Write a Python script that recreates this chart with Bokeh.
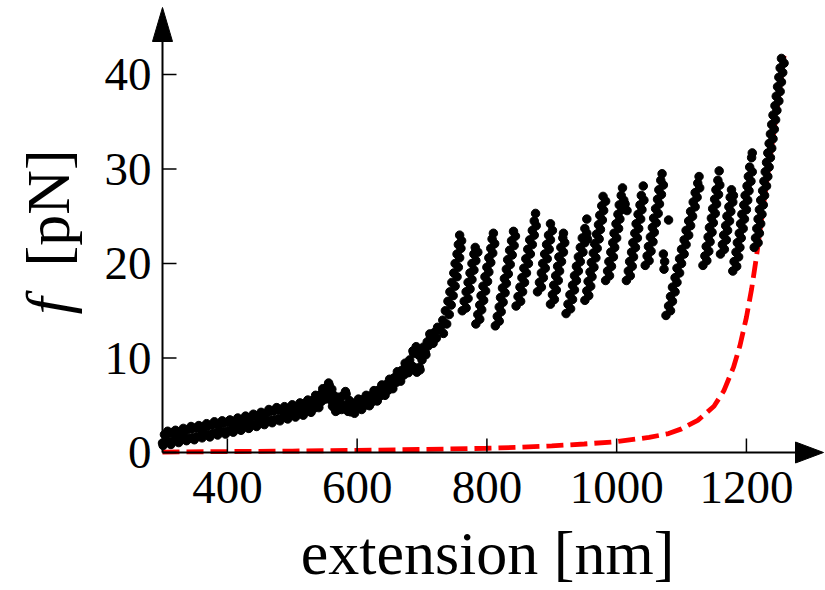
from math import pi
from bokeh.plotting import figure
from bokeh.models import Range1d
from bokeh.core.properties import value
from bokeh.embed import file_html
from bokeh.resources import INLINE

# ---------------- data ----------------
x_ticks = [400, 600, 800, 1000, 1200]
y_ticks = [0, 10, 20, 30, 40]
x_title = "extension [nm]"
y_title_sym = "f"
y_title_unit = "[pN]"

# low-force ramp (two rows of dots)
ext_ramp = [300, 303, 306, 309, 312, 315, 318, 321, 324, 327, 330, 333, 336, 339, 342, 345,
            348, 351, 354, 357, 360, 363, 366, 369, 372, 375, 378, 381, 384, 387, 390, 393,
            396, 399, 402, 405, 408, 411, 414, 417, 420, 423, 426, 429, 432, 435, 438, 441,
            444, 447, 450, 453, 456, 459, 462, 465, 468, 471, 474, 477, 480, 483, 486, 489,
            492, 495, 498, 501, 504, 507, 510, 513, 516, 519, 522, 525, 528, 531, 534, 537,
            540, 543, 545, 548, 550, 553, 554, 557, 558, 561, 562, 565, 566, 569, 570, 573,
            575, 578, 580, 583, 585, 588, 590, 593, 595, 598, 600, 603, 606, 609, 612, 615,
            618, 621, 624, 627, 630, 633, 636, 639, 642, 645, 648, 651, 654, 657, 660, 663,
            666, 669, 672, 675, 678, 681, 684, 687, 688, 691, 692, 695, 696, 699, 700, 703,
            705, 708, 710, 713, 716, 719, 722, 725]
f_ramp = [1.0, 1.9, 1.2, 2.0, 1.1, 2.1, 1.3, 2.1, 1.3, 2.2, 1.4, 2.3, 1.5, 2.4, 1.5, 2.5,
          1.6, 2.6, 1.7, 2.6, 1.8, 2.7, 1.9, 2.8, 1.9, 2.9, 2.0, 3.0, 2.1, 3.0, 2.2, 3.1,
          2.2, 3.2, 2.3, 3.2, 2.4, 3.3, 2.5, 3.4, 2.6, 3.5, 2.7, 3.6, 2.8, 3.7, 2.9, 3.8,
          3.0, 3.9, 3.1, 4.0, 3.2, 4.1, 3.3, 4.3, 3.4, 4.4, 3.5, 4.5, 3.6, 4.5, 3.7, 4.6,
          3.8, 4.7, 3.9, 4.8, 4.0, 4.9, 4.1, 5.0, 4.2, 5.2, 4.4, 5.3, 4.5, 5.5, 4.7, 5.8,
          5.0, 6.1, 5.4, 6.5, 5.9, 6.9, 6.3, 7.1, 5.8, 6.7, 4.9, 5.8, 4.6, 5.5, 4.5, 5.6,
          4.8, 6.0, 5.0, 6.2, 4.6, 5.5, 4.3, 5.0, 4.4, 5.2, 4.6, 5.4, 4.8, 5.6, 5.0, 5.8,
          5.2, 6.0, 5.4, 6.3, 5.7, 6.6, 6.0, 6.9, 6.3, 7.2, 6.6, 7.5, 7.0, 7.9, 7.4, 8.3,
          7.8, 8.7, 8.2, 9.2, 8.7, 9.8, 9.2, 10.5, 9.0, 11.2, 8.5, 10.3, 9.0, 10.2, 9.8, 10.9,
          10.6, 11.7, 11.3, 12.3, 11.8, 12.7, 12.1, 13.0]

# scattered dots along the edges of the ramp
ext_ramp_edge = [301, 308, 313, 320, 325, 332, 337, 344, 349, 356, 361, 368, 373, 380, 385, 392,
                 397, 404, 409, 416, 421, 428, 433, 440, 445, 452, 457, 464, 469, 476, 481, 488,
                 493, 500, 505, 512, 517, 524, 529, 536, 541, 547, 551, 556, 559, 564, 567, 572,
                 576, 582, 586, 592, 596, 602, 607, 614, 619, 626, 631, 638, 643, 650, 655, 662,
                 667, 674, 679, 686, 689, 694, 697, 702, 706, 712, 717, 724]
f_ramp_edge = [0.75, 2.25, 0.85, 2.35, 1.05, 2.55, 1.25, 2.75, 1.35, 2.85, 1.55, 3.05, 1.65, 3.25,
               1.85, 3.35, 1.95, 3.45, 2.15, 3.65, 2.35, 3.85, 2.55, 4.05, 2.75, 4.25, 2.95, 4.55,
               3.15, 4.75, 3.35, 4.85, 3.55, 5.05, 3.75, 5.25, 3.95, 5.55, 4.25, 6.05, 4.75, 6.75,
               5.65, 7.35, 5.55, 6.05, 4.35, 5.85, 4.55, 6.45, 4.35, 5.25, 4.15, 5.65, 4.55, 6.05,
               4.95, 6.55, 5.45, 7.15, 6.05, 7.75, 6.75, 8.55, 7.55, 9.45, 8.45, 10.75, 8.75, 10.55,
               8.75, 11.15, 10.35, 12.55, 11.55, 13.25]

# sawtooth (unfolding events), band by band
ext_teeth = [
    728, 732, 736, 740, 743, 746, 749, 751, 754, 756, 758,
    733, 738, 742, 745, 748, 751, 754, 756, 758, 760, 761,
    762, 765, 768, 771, 774, 777, 780, 782,
    768, 771, 774, 777, 780, 783, 786,
    783, 786, 789, 791, 794, 797, 800, 803, 806, 808, 810,
    789, 792, 795, 798, 801, 803, 806, 809, 812,
    813, 816, 819, 821, 824, 827, 830, 832, 835, 838, 841,
    819, 822, 825, 828, 830, 833, 836, 839, 842, 844,
    845, 848, 851, 854, 857, 860, 863, 866, 870, 873, 875,
    852, 855, 858, 861, 864, 867, 870, 873, 876,
    878, 881, 884, 886, 889, 892, 895, 898,
    884, 887, 890, 893, 896, 898, 901,
    898, 901, 903, 906, 909, 911, 914, 917, 918,
    904, 907, 910, 912, 915, 918, 920,
    922, 925, 928, 932, 935, 938, 941, 944, 947, 951, 954,
    929, 932, 935, 938, 941, 944, 948, 951, 954,
    951, 954, 956, 959, 961, 964, 966, 969, 972, 974, 977, 979,
    957, 960, 962, 965, 968, 970, 973, 975, 978, 980, 983,
    983, 986, 988, 991, 994, 996, 999, 1002, 1004, 1007, 1009,
    989, 992, 995, 997, 1000, 1003, 1005, 1008, 1011, 1013, 1016,
    1015, 1018, 1020, 1023, 1025, 1028, 1030, 1033, 1036, 1038, 1041,
    1021, 1024, 1026, 1029, 1032, 1034, 1037, 1039, 1042,
    1044, 1047, 1049, 1052, 1055, 1057, 1060, 1063, 1065, 1068, 1070,
    1050, 1053, 1056, 1058, 1061, 1064, 1066, 1069, 1072,
    1072, 1074, 1073, 1080, 955,
    1076, 1080, 1083, 1086, 1090, 1093, 1097, 1100, 1104, 1107, 1111, 1114, 1118, 1121, 1125, 1127,
    1083, 1086, 1090, 1093, 1097, 1100, 1104, 1107, 1111, 1114, 1117, 1121, 1124, 1128,
    1133, 1136, 1138, 1141, 1143, 1146, 1148, 1151, 1153, 1156, 1158,
    1139, 1142, 1144, 1147, 1149, 1152, 1154, 1157, 1159,
    1160, 1163, 1165, 1168, 1170, 1173, 1175, 1177,
    1166, 1169, 1171, 1174, 1176, 1179, 1180,
    1179, 1181, 1184, 1186, 1189, 1191, 1193, 1196, 1198, 1201, 1203, 1205, 1208, 1209,
    1185, 1188, 1190, 1192, 1195, 1197, 1200, 1202, 1204, 1207, 1209,
    1212, 1214, 1216, 1218, 1220, 1222, 1225, 1227, 1229, 1231, 1233, 1235, 1237, 1239, 1241,
    1244, 1246, 1248, 1250, 1252, 1254,
    1218, 1220, 1222, 1224, 1226, 1228, 1231, 1233, 1235, 1237, 1239, 1241, 1243, 1245, 1247,
    1250, 1252, 1254, 1256, 1258,
]
f_teeth = [
    13.2, 14.0, 15.0, 16.0, 17.0, 18.0, 19.0, 20.0, 21.0, 22.0, 23.0,
    12.6, 13.6, 14.6, 15.6, 16.6, 17.6, 18.6, 19.6, 20.6, 21.6, 22.4,
    15.0, 16.0, 17.0, 18.0, 19.0, 20.0, 21.0, 21.7,
    15.3, 16.3, 17.3, 18.3, 19.3, 20.3, 21.2,
    13.6, 14.6, 15.6, 16.6, 17.6, 18.6, 19.6, 20.6, 21.6, 22.6, 23.2,
    14.1, 15.1, 16.1, 17.1, 18.1, 19.1, 20.1, 21.1, 22.1,
    13.4, 14.4, 15.4, 16.4, 17.4, 18.4, 19.4, 20.4, 21.4, 22.4, 23.4,
    13.9, 14.9, 15.9, 16.9, 17.9, 18.9, 19.9, 20.9, 21.9, 22.9,
    15.5, 16.5, 17.5, 18.5, 19.5, 20.5, 21.5, 22.5, 23.5, 24.5, 25.3,
    16.0, 17.0, 18.0, 19.0, 20.0, 21.0, 22.0, 23.0, 24.0,
    17.0, 18.0, 19.0, 20.0, 21.0, 22.0, 23.0, 24.2,
    17.5, 18.5, 19.5, 20.5, 21.5, 22.5, 23.5,
    15.7, 16.7, 17.7, 18.7, 19.7, 20.7, 21.7, 22.7, 23.2,
    16.2, 17.2, 18.2, 19.2, 20.2, 21.2, 22.2,
    14.7, 15.7, 16.7, 17.7, 18.7, 19.7, 20.7, 21.7, 22.7, 23.7, 24.7,
    15.2, 16.2, 17.2, 18.2, 19.2, 20.2, 21.2, 22.2, 23.2,
    16.1, 17.1, 18.1, 19.1, 20.1, 21.1, 22.1, 23.1, 24.1, 25.1, 26.1, 27.1,
    16.6, 17.6, 18.6, 19.6, 20.6, 21.6, 22.6, 23.6, 24.6, 25.6, 26.6,
    18.2, 19.2, 20.2, 21.2, 22.2, 23.2, 24.2, 25.2, 26.2, 27.2, 28.0,
    18.7, 19.7, 20.7, 21.7, 22.7, 23.7, 24.7, 25.7, 26.7, 26.3, 25.6,
    18.2, 19.2, 20.2, 21.2, 22.2, 23.2, 24.2, 25.2, 26.2, 27.2, 28.2,
    18.7, 19.7, 20.7, 21.7, 22.7, 23.7, 24.7, 25.7, 26.7,
    19.8, 20.8, 21.8, 22.8, 23.8, 24.8, 25.8, 26.8, 27.8, 28.8, 29.5,
    20.3, 21.3, 22.3, 23.3, 24.3, 25.3, 26.3, 27.3, 28.3,
    21.0, 20.2, 19.4, 24.6, 22.6,
    14.5, 15.5, 16.5, 17.5, 18.5, 19.5, 20.5, 21.5, 22.5, 23.5, 24.5, 25.5, 26.5, 27.5, 28.5, 29.2,
    15.0, 16.0, 17.0, 18.0, 19.0, 20.0, 21.0, 22.0, 23.0, 24.0, 25.0, 26.0, 27.0, 28.0,
    19.8, 20.8, 21.8, 22.8, 23.8, 24.8, 25.8, 26.8, 27.8, 28.8, 29.8,
    20.3, 21.3, 22.3, 23.3, 24.3, 25.3, 26.3, 27.3, 28.3,
    21.0, 22.0, 23.0, 24.0, 25.0, 26.0, 27.0, 27.8,
    21.5, 22.5, 23.5, 24.5, 25.5, 26.5, 27.2,
    19.2, 20.2, 21.2, 22.2, 23.2, 24.2, 25.2, 26.2, 27.2, 28.2, 29.2, 30.2, 31.2, 31.7,
    19.7, 20.7, 21.7, 22.7, 23.7, 24.7, 25.7, 26.7, 27.7, 28.7, 29.7,
    21.7, 22.7, 23.7, 24.7, 25.7, 26.7, 27.7, 28.7, 29.7, 30.7, 31.7, 32.7, 33.7, 34.7, 35.7,
    36.7, 37.7, 38.7, 39.7, 40.7, 41.7,
    22.2, 23.2, 24.2, 25.2, 26.2, 27.2, 28.2, 29.2, 30.2, 31.2, 32.2, 33.2, 34.2, 35.2, 36.2,
    37.2, 38.2, 39.2, 40.2, 41.2,
]

# worm-like-chain fit (red dashed)
ext_fit = [300, 400, 500, 600, 700, 800, 850, 900, 950, 1000, 1050, 1080, 1100, 1125,
           1150, 1165, 1180, 1190, 1200, 1208, 1215, 1222, 1230, 1240, 1250, 1258]
f_fit = [0.05, 0.1, 0.15, 0.22, 0.32, 0.45, 0.55, 0.7, 0.9, 1.15, 1.6, 2.0, 2.5, 3.4,
         4.9, 6.5, 9.0, 11.3, 14.3, 17.3, 20.5, 24.0, 28.0, 32.8, 37.8, 42.0]

# ---------------- layout (page pixels; the page has no margin) ----------------
W, H = 824, 588
X_ORIG, Y_ORIG = 300, 0          # where the two axes cross
PX_ORIG, PY_ORIG = 162, 452       # pixel position of that crossing
SX = 0.6488                       # px per nm
SY = 9.45                         # px per pN
X_LO = X_ORIG - PX_ORIG / SX
X_HI = X_ORIG + (W - PX_ORIG) / SX
Y_HI = Y_ORIG + PY_ORIG / SY
Y_LO = Y_ORIG - (H - PY_ORIG) / SY


def px2x(px):
    return X_ORIG + (px - PX_ORIG) / SX


def py2y(py):
    return Y_ORIG + (PY_ORIG - py) / SY


FONT = "Liberation Serif"
TICK = 14        # px, drawn inward
BASE_K = 0.37    # text baseline correction, in em

p = figure(width=W, height=H, x_range=Range1d(X_LO, X_HI), y_range=Range1d(Y_LO, Y_HI),
           output_backend="svg", toolbar_location=None, x_axis_type=None, y_axis_type=None,
           min_border=0)
p.outline_line_color = None
p.grid.visible = False
p.background_fill_color = "white"
p.border_fill_color = "white"

# fit line, then data dots
p.line(ext_fit, f_fit, line_color="#ff0000", line_width=4.8, line_dash="17 7")
p.scatter(ext_ramp, f_ramp, size=8.5, color="black")
p.scatter(ext_ramp_edge, f_ramp_edge, size=8.5, color="black")
p.scatter(ext_teeth, f_teeth, size=8.5, color="black")

# axis lines
p.segment(x0=[X_ORIG, X_ORIG], y0=[Y_ORIG, Y_ORIG], x1=[px2x(798), X_ORIG], y1=[Y_ORIG, py2y(38)],
          line_color="black", line_width=2)
# ticks (inward)
p.segment(x0=x_ticks, y0=[Y_ORIG] * len(x_ticks), x1=x_ticks, y1=[Y_ORIG + TICK / SY] * len(x_ticks),
          line_color="black", line_width=1.5)
p.segment(x0=[X_ORIG] * len(y_ticks), y0=y_ticks, x1=[X_ORIG + TICK / SX] * len(y_ticks), y1=y_ticks,
          line_color="black", line_width=1.5)
# arrowheads
p.patch([px2x(795), px2x(795), px2x(823)], [py2y(PY_ORIG - 10.5), py2y(PY_ORIG + 10.5), Y_ORIG],
        fill_color="black", line_color="black", line_width=1)
p.patch([px2x(PX_ORIG - 10), px2x(PX_ORIG + 10), X_ORIG], [py2y(41), py2y(41), py2y(7)],
        fill_color="black", line_color="black", line_width=1)

# tick labels (baseline 504 px for x; digits centred on tick for y)
TS = 47
p.text(x=x_ticks, y=[py2y(504 - BASE_K * TS)] * len(x_ticks), text=[str(t) for t in x_ticks],
       text_font=value(FONT), text_font_size=value(f"{TS}px"), text_color="black",
       text_align="center", text_baseline="alphabetic")
p.text(x=[px2x(151)] * len(y_ticks), y=[t + (BASE_K * TS - 17.5) / SY for t in y_ticks],
       text=[str(t) for t in y_ticks],
       text_font=value(FONT), text_font_size=value(f"{TS}px"), text_color="black",
       text_align="right", text_baseline="alphabetic")

# axis titles
XS = 62
p.text(x=[px2x(487)], y=[py2y(575 - BASE_K * XS)], text=[x_title],
       text_font=value(FONT), text_font_size=value(f"{XS}px"), text_color="black",
       text_align="center", text_baseline="alphabetic")
YS = 62
p.text(x=[px2x(70 - BASE_K * YS)], y=[py2y(314)], text=[y_title_sym], angle=pi / 2,
       text_font=value(FONT), text_font_style="italic", text_font_size=value(f"{YS}px"),
       text_color="black", text_align="left", text_baseline="alphabetic")
p.text(x=[px2x(70 - BASE_K * YS)], y=[py2y(266)], text=[y_title_unit], angle=pi / 2,
       text_font=value(FONT), text_font_size=value(f"{YS}px"),
       text_color="black", text_align="left", text_baseline="alphabetic")

open("out.html", "w").write(file_html(p, INLINE))
